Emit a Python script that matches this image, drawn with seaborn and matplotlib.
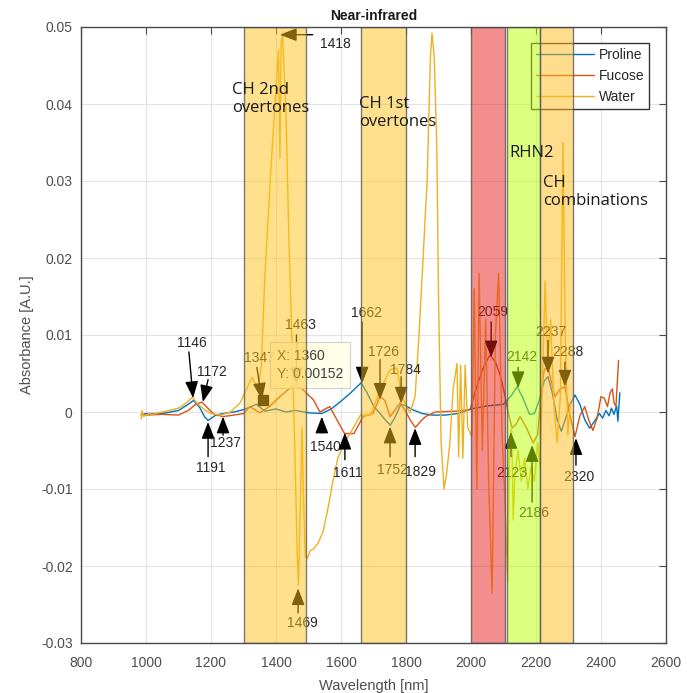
import matplotlib
matplotlib.use("Agg")
import matplotlib.pyplot as plt
import seaborn as sns
import pandas as pd
import numpy as np

# ---------------- data ----------------
proline_x = [985, 1000, 1050, 1100, 1130, 1146, 1165, 1180, 1191, 1215, 1237, 1270, 1300, 1340, 1365,
             1400, 1430, 1460, 1500, 1540, 1570, 1600, 1630, 1662, 1680, 1700, 1720, 1740, 1752, 1765,
             1784, 1800, 1820, 1850, 1880, 1920, 1960, 2000, 2050, 2100, 2125, 2142, 2160, 2180, 2195,
             2210, 2225, 2237, 2250, 2265, 2278, 2290, 2305, 2320, 2335, 2350, 2365, 2380, 2395, 2405,
             2415, 2425, 2432, 2440, 2448, 2452, 2458]
proline_y = [-0.0004, -0.0002, -0.0002, 0.0002, 0.0010, 0.0015, 0.0006, -0.0006, -0.0011, -0.0004,
             -0.0002, 0.0000, 0.0003, 0.0010, 0.0001, 0.0004, 0.0000, 0.0002, -0.0001, -0.0002, 0.0004,
             0.0014, 0.0025, 0.0038, 0.0025, 0.0008, -0.0002, -0.0012, -0.0017, -0.0008, 0.0010, 0.0008,
             0.0003, -0.0002, -0.0004, -0.0004, -0.0002, 0.0004, 0.0008, 0.0010, 0.0022, 0.0033, 0.0018,
             -0.0003, -0.0002, 0.0015, 0.0040, 0.0046, 0.0025, -0.0010, -0.0025, -0.0010, 0.0010, 0.0022,
             0.0010, -0.0010, -0.0021, -0.0012, -0.0002, -0.0008, 0.0002, -0.0005, 0.0005, -0.0003,
             0.0008, -0.0012, 0.0025]

fucose_x = [985, 1000, 1050, 1100, 1130, 1150, 1172, 1190, 1210, 1237, 1270, 1300, 1320, 1350, 1380,
            1412, 1443, 1463, 1480, 1495, 1515, 1535, 1565, 1590, 1611, 1640, 1668, 1698, 1720, 1735,
            1751, 1770, 1782, 1800, 1815, 1829, 1845, 1860, 1890, 1950, 1997, 2012, 2035, 2058, 2075,
            2092, 2105, 2114, 2126, 2140, 2151, 2170, 2191, 2205, 2215, 2225, 2237, 2258, 2275, 2289,
            2305, 2320, 2335, 2350, 2362, 2375, 2388, 2400, 2410, 2420, 2428, 2435, 2440, 2446, 2454]
fucose_y = [-0.0003, -0.0004, -0.0003, -0.0004, 0.0002, 0.0009, 0.0013, 0.0005, -0.0003, -0.0006,
            -0.0004, -0.0002, 0.0007, -0.0001, 0.0007, 0.0020, 0.0031, 0.0035, 0.0030, 0.0024, 0.0016,
            0.0000, 0.0007, -0.0012, -0.0028, -0.0028, -0.0006, -0.0002, 0.0020, 0.0015, -0.0006,
            0.0005, 0.0012, 0.0000, -0.0012, -0.0020, -0.0012, -0.0006, 0.0000, 0.0001, 0.0003, 0.0025,
            0.0055, 0.0074, 0.0065, 0.0045, 0.0020, 0.0000, -0.0021, -0.0015, -0.0006, -0.0020, -0.0040,
            -0.0030, 0.0020, 0.0055, 0.0058, 0.0020, 0.0030, 0.0033, -0.0005, -0.0032, -0.0005, 0.0007,
            -0.0010, -0.0024, -0.0008, 0.0020, 0.0018, 0.0007, 0.0025, 0.0030, 0.0012, 0.0007, 0.0067]

water_x = [985, 988, 992, 1000, 1010, 1020, 1050, 1100, 1125, 1142, 1160, 1180, 1200, 1230, 1260,
           1290, 1326, 1345, 1355, 1365, 1385, 1400, 1408, 1412, 1416, 1420, 1430, 1440, 1450, 1458,
           1465, 1469, 1475, 1480, 1484, 1490, 1497, 1505, 1515, 1530, 1545, 1560, 1575, 1590, 1610,
           1628, 1660, 1690, 1720, 1751, 1772, 1787, 1812, 1828, 1840, 1850, 1865, 1875, 1880, 1887,
           1895, 1900, 1908, 1917, 1925, 1935, 1945, 1957, 1962, 1968, 1975, 1982, 1990, 2000, 2003,
           2010, 2018, 2025, 2035, 2045, 2055, 2065, 2075, 2085, 2095, 2105, 2113, 2118, 2125, 2130,
           2135, 2145, 2155, 2165, 2175, 2185, 2195, 2205, 2212, 2220, 2228, 2236, 2245, 2255, 2265,
           2275, 2283, 2290, 2298, 2305]
water_y = [-0.0009, 0.0002, -0.0006, -0.0004, -0.0002, -0.0003, 0.0000, 0.0005, 0.0012, 0.0019,
           0.0010, 0.0003, -0.0002, -0.0004, 0.0000, 0.0012, 0.0045, 0.0030, 0.0060, 0.0170, 0.0320,
           0.0420, 0.0470, 0.0330, 0.0480, 0.0490, 0.0400, 0.0220, 0.0080, -0.0050, -0.0180, -0.0225,
           -0.0120, -0.0020, -0.0100, -0.0188, -0.0190, -0.0180, -0.0178, -0.0170, -0.0155, -0.0125,
           -0.0090, -0.0060, -0.0040, -0.0028, -0.0004, -0.0004, 0.0028, 0.0055, 0.0057, 0.0020,
           -0.0001, 0.0020, 0.0100, 0.0180, 0.0300, 0.0460, 0.0492, 0.0460, 0.0340, 0.0150, -0.0040,
           -0.0100, -0.0080, -0.0040, 0.0030, 0.0063, -0.0058, 0.0061, -0.0060, 0.0061, -0.0020,
           -0.0030, -0.0030, 0.0160, -0.0100, 0.0180, -0.0050, 0.0120, -0.0100, -0.0235, 0.0100,
           0.0180, -0.0020, -0.0120, -0.0220, -0.0040, -0.0020, -0.0140, -0.0080, -0.0050, -0.0090,
           -0.0060, -0.0100, -0.0070, -0.0090, -0.0040, -0.0070, 0.0040, 0.0170, 0.0060, 0.0120,
           0.0010, -0.0040, 0.0020, 0.0350, 0.0100, -0.0030, 0.0010]

series_names = ["Proline", "Fucose", "Water"]

band_labels = ["CH 2nd\novertones", "CH 1st\novertones", "", "RHN2", "CH\ncombinations"]
band_starts = [1300, 1660, 2000, 2112, 2212]
band_ends = [1492, 1800, 2105, 2212, 2315]

peak_labels = ["1418", "1146", "1172", "1191", "1237", "1347", "1463", "1469", "1540", "1611",
               "1662", "1726", "1784", "1752", "1829", "2059", "2142", "2123", "2186", "2237",
               "2288", "2320"]

datatip_x = [1360]
datatip_y = [0.00152]

xticks = [800, 1000, 1200, 1400, 1600, 1800, 2000, 2200, 2400, 2600]
yticks = [-0.03, -0.02, -0.01, 0.0, 0.01, 0.02, 0.03, 0.04, 0.05]
ytick_labels = ["-0.03", "-0.02", "-0.01", "0", "0.01", "0.02", "0.03", "0.04", "0.05"]

# ---------------- styling ----------------
sns.set_theme(style="white")
plt.rcParams['font.family'] = ['Liberation Sans', 'DejaVu Sans']

palette = {"Proline": "#0072BD", "Fucose": "#D95319", "Water": "#EDB120"}
band_colors = [(1.0, 0.76, 0.10), (1.0, 0.76, 0.10), (0.90, 0.12, 0.12), (0.73, 1.0, 0.0), (1.0, 0.74, 0.10)]

df = pd.concat([
    pd.DataFrame({"Wavelength": proline_x, "Absorbance": proline_y, "Series": "Proline"}),
    pd.DataFrame({"Wavelength": fucose_x, "Absorbance": fucose_y, "Series": "Fucose"}),
    pd.DataFrame({"Wavelength": water_x, "Absorbance": water_y, "Series": "Water"}),
], ignore_index=True)

W, H = 687, 693
fig = plt.figure(figsize=(W / 100, H / 100), dpi=100)
ax = fig.add_axes([81 / W, 1 - 643 / H, (666 - 81) / W, (643 - 27) / H])

sns.lineplot(data=df, x="Wavelength", y="Absorbance", hue="Series", hue_order=series_names,
             palette=palette, estimator=None, sort=False, linewidth=1.0, ax=ax, zorder=2)

ax.set_xlim(800, 2600)
ax.set_ylim(-0.03, 0.05)
ax.set_xticks(xticks)
ax.set_xticklabels([str(t) for t in xticks])
ax.set_yticks(yticks)
ax.set_yticklabels(ytick_labels)
ax.grid(True, color="#e3e3e3", linewidth=0.8, zorder=0)
ax.set_axisbelow(True)
for s in ax.spines.values():
    s.set_visible(True)
    s.set_color("#4a4a4a")
    s.set_linewidth(1.0)
    s.set_zorder(8)
ax.tick_params(direction="in", top=True, right=True, length=5, width=0.8, color="#4a4a4a",
               labelcolor="#4d4d4d", labelsize=10)
ax.tick_params(axis="x", pad=9.5)
ax.tick_params(axis="y", pad=6)

ax.set_xlabel("Wavelength [nm]", fontsize=10.5, color="#4d4d4d", labelpad=6)
ax.set_ylabel("Absorbance [A.U.]", fontsize=10.5, color="#4d4d4d", labelpad=5)
ax.set_title("Near-infrared", fontsize=10, fontweight="bold", color="#1a1a1a", pad=5)

# annotation arrows (layout)
arrow_tips = [(1412, 0.0490), (1145, 0.0018), (1175, 0.0013), (1191, -0.0013), (1237, -0.0006),
              (1357, 0.0016), (1463, 0.0036), (1468, -0.0229), (1541, -0.0006), (1612, -0.0027),
              (1665, 0.0037), (1720, 0.0016), (1785, 0.0011), (1751, -0.0019), (1828, -0.0021),
              (2062, 0.0071), (2145, 0.0031), (2123, -0.0026), (2188, -0.0043), (2237, 0.0050),
              (2289, 0.0033), (2323, -0.0034)]
arrow_tails = [(1513, 0.0490), (1132, 0.0078), (1191, 0.0042), (1191, -0.0058), (1237, -0.0030),
               (1341, 0.0058), (1463, 0.0100), (1468, -0.0261), (1541, -0.0027), (1612, -0.0062),
               (1665, 0.0117), (1720, 0.0068), (1785, 0.0046), (1751, -0.0058), (1828, -0.0058),
               (2062, 0.0117), (2145, 0.0058), (2123, -0.0058), (2188, -0.0117), (2237, 0.0093),
               (2289, 0.0065), (2323, -0.0069)]
label_pos = [(1535, 0.0478), (1141, 0.0090), (1203, 0.0052), (1200, -0.0073), (1246, -0.0040),
             (1348, 0.0070), (1474, 0.0113), (1480, -0.0274), (1551, -0.0045), (1621, -0.0079),
             (1677, 0.0128), (1732, 0.0078), (1797, 0.0055), (1760, -0.0075), (1844, -0.0078),
             (2068, 0.0130), (2157, 0.0071), (2127, -0.0079), (2194, -0.0131), (2246, 0.0104),
             (2298, 0.0078), (2332, -0.0084)]

for lab, tip, tail, lp in zip(peak_labels, arrow_tips, arrow_tails, label_pos):
    ax.annotate("", xy=tip, xytext=tail,
                arrowprops=dict(arrowstyle="-|>,head_length=0.85,head_width=0.33", color="black",
                                lw=1.0, shrinkA=0, shrinkB=0), zorder=4)
    ha = "left" if lab == "1418" else "center"
    ax.text(lp[0], lp[1], lab, ha=ha, va="center", fontsize=10, color="#262626", zorder=4)

# datatip
ax.plot(datatip_x, datatip_y, marker="s", color="black", markersize=7, linestyle="none", zorder=4)
ax.text(1403, 0.0061, f"X: {datatip_x[0]}\nY: {datatip_y[0]}", ha="left", va="center",
        fontsize=10, color="#404040", linespacing=1.35, zorder=4.5,
        bbox=dict(boxstyle="square,pad=0.5", facecolor=(1.0, 1.0, 0.9, 0.85),
                  edgecolor="#d0d0d0", linewidth=0.8))

# legend
handles, labels = ax.get_legend_handles_labels()
leg = ax.legend(handles, labels, loc="upper right", bbox_to_anchor=(0.971, 0.974), borderaxespad=0,
                fontsize=10, frameon=True, fancybox=False, framealpha=1, edgecolor="#333333",
                handlelength=4.2, handletextpad=0.3, labelspacing=0.5, borderpad=0.35)
leg.get_frame().set_linewidth(1.0)
leg.set_zorder(5)

# bands (drawn over the curves, semi-transparent)
for x0, x1, c in zip(band_starts, band_ends, band_colors):
    ax.axvspan(x0, x1, facecolor=(*c, 0.5), edgecolor=(0.35, 0.35, 0.35, 0.8), linewidth=1.0,
               zorder=6)

band_text_pos = [(1264, 0.0428), (1655, 0.0410), (2000, 0.0), (2117, 0.0347), (2222, 0.0308)]
for lab, (tx, ty) in zip(band_labels, band_text_pos):
    if lab:
        ax.text(tx, ty, lab, ha="left", va="top", fontsize=12, family=["Open Sans", "DejaVu Sans"],
                color="#1a1a1a", linespacing=1.15, zorder=7)

fig.savefig("out.png", dpi=100)
